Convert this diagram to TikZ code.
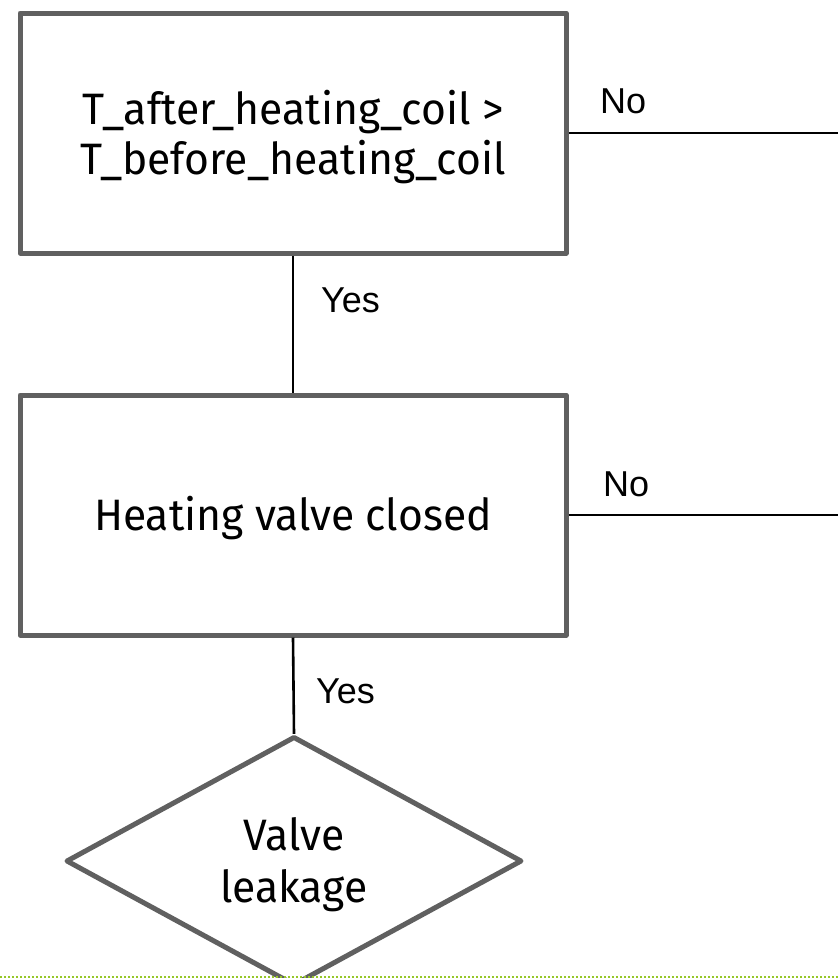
\documentclass[tikz,border=0pt]{standalone}
\usepackage{fontspec}
\setmainfont[FakeStretch=0.97]{Fira Sans}
\newfontfamily\labelfont{Liberation Sans}
\usetikzlibrary{shapes.geometric}
\definecolor{boxgray}{RGB}{96,96,96}
\definecolor{dotgreen}{RGB}{150,200,40}
\tikzset{
  procbox/.style={draw=boxgray, line width=5pt, line join=round, rectangle,
    minimum width=546pt, minimum height=240pt, inner sep=0pt, align=center,
    font=\fontsize{44pt}{50pt}\selectfont},
  decbox/.style={draw=boxgray, line width=5pt, line join=round, diamond,
    minimum width=456pt, minimum height=242pt, inner sep=0pt, align=center,
    font=\fontsize{44pt}{52pt}\selectfont},
  conn/.style={draw=black, line width=2.6pt},
  edgelabel/.style={anchor=base west, inner sep=0pt, font=\labelfont\fontsize{36pt}{40pt}\selectfont}
}
\begin{document}
\begin{tikzpicture}[x=1pt, y=-1pt]
\useasboundingbox (0,0) rectangle (838,978);
\node[procbox, text height=92pt, text depth=10pt] (cond) at (293,133)
  {\begin{tabular}[b]{@{}c@{}}T\_after\_heating\_coil >\\T\_before\_heating\_coil\end{tabular}};
\node[procbox, text height=36pt, text depth=6pt] (valve) at (293,515) {Heating valve closed};
\node[decbox, text height=92pt, text depth=10pt] (leak) at (294,861)
  {\begin{tabular}[b]{@{}c@{}}Valve\\leakage\end{tabular}};
\coordinate (noA) at (838,133);
\coordinate (noB) at (838,515);
\coordinate (dotL) at (0,977);
\coordinate (dotR) at (838,977);
\draw[conn] (cond.south) -- (valve.north);
\draw[conn] (valve.south) -- (leak.north);
\draw[conn] (cond.east) -- (noA);
\draw[conn] (valve.east) -- (noB);
\node[edgelabel] (yes1) at (321,312) {Yes};
\node[edgelabel] (yes2) at (316,703) {Yes};
\node[edgelabel] (no1) at (600,113) {No};
\node[edgelabel] (no2) at (603,496) {No};
\draw[draw=dotgreen, line width=1.5pt, dash pattern=on 2pt off 2pt] (dotL) -- (dotR);
\end{tikzpicture}
\end{document}
